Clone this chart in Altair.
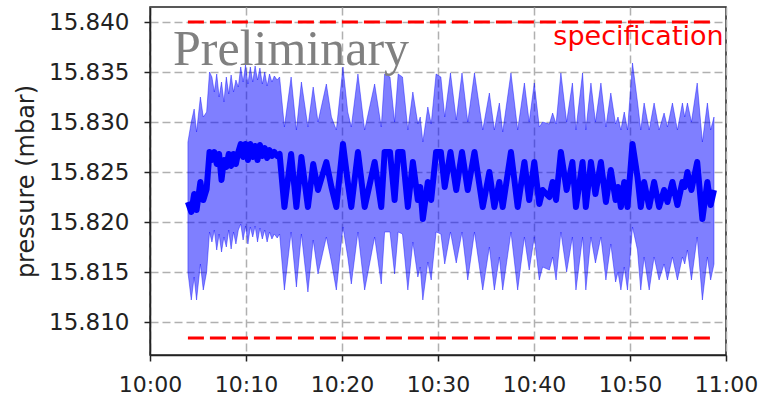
import altair as alt
import pandas as pd

# minutes after 10:00
minutes = [
    3.95, 4.3, 4.6, 4.85, 5.25, 5.55, 5.9, 6.2,
    6.45, 6.7, 6.95, 7.2, 7.45, 7.7, 7.95, 8.2, 8.45, 8.7, 8.95, 9.2, 9.45, 9.7,
    9.95, 10.2, 10.45, 10.7, 10.95, 11.2, 11.45, 11.7, 11.95, 12.2, 12.45, 12.7, 12.95, 13.25,
    13.5, 14.0, 14.7, 15.25, 15.77, 16.45, 17.0, 17.5, 18.37, 18.9, 19.41, 20.1, 20.6, 20.97,
    21.66, 22.36, 23.4, 24.09, 24.44, 25.0, 25.48, 25.85, 26.3, 26.86, 27.38, 27.9, 28.15,
    28.42, 28.94, 29.29, 29.8, 30.3, 30.7,
    31.3, 31.9, 32.5, 33.1, 33.8, 34.66, 35.35, 35.87, 36.39, 36.74, 37.6, 38.3, 39.0, 39.5,
    40.03, 40.55, 40.9, 41.6, 41.94, 42.3, 42.8, 43.4, 44.0, 44.37, 45.06, 45.4, 45.93, 46.4,
    46.97, 47.49, 48.0, 48.5, 48.75, 49.05, 49.4, 49.74, 50.26, 50.78, 51.12, 51.47, 52.0,
    52.51, 53.03, 53.55, 53.9, 54.42, 54.94, 55.46, 55.7, 55.98, 56.4, 57.0, 57.54, 58.06,
    58.4, 58.75,
]

mean_p = [
    15.8220, 15.8210, 15.8228, 15.8212, 15.8240, 15.8222, 15.8233, 15.8270,
    15.8262, 15.8270, 15.8258, 15.8268, 15.8242, 15.8262, 15.8255, 15.8268, 15.8256, 15.8268,
    15.8258, 15.8270, 15.8278, 15.8265, 15.8278, 15.8262, 15.8278, 15.8265, 15.8276, 15.8262,
    15.8277, 15.8266, 15.8274, 15.8264, 15.8272, 15.8266, 15.8270, 15.8266,
    15.8268, 15.8215, 15.8268, 15.8215, 15.8265, 15.8215, 15.8258, 15.8232, 15.8260, 15.8235,
    15.8215, 15.8278, 15.8240, 15.8215, 15.8270, 15.8215, 15.8260, 15.8215, 15.8270, 15.8270,
    15.8222, 15.8270, 15.8270, 15.8215, 15.8260, 15.8222, 15.8235, 15.8203, 15.8240, 15.8222,
    15.8270, 15.8270, 15.8235,
    15.8270, 15.8232, 15.8270, 15.8232, 15.8270, 15.8215, 15.8250, 15.8215, 15.8240, 15.8215,
    15.8270, 15.8215, 15.8260, 15.8222, 15.8260, 15.8218, 15.8232, 15.8225, 15.8240, 15.8222,
    15.8270, 15.8232, 15.8260, 15.8215, 15.8260, 15.8215, 15.8260, 15.8228, 15.8260, 15.8220,
    15.8252, 15.8222, 15.8235, 15.8215, 15.8240, 15.8215, 15.8278, 15.8245, 15.8215, 15.8240,
    15.8215, 15.8240, 15.8215, 15.8232, 15.8220, 15.8240, 15.8217, 15.8240, 15.8235, 15.8250,
    15.8232, 15.8260, 15.8203, 15.8240, 15.8217, 15.8232,
]

upper_p = [
    15.8280, 15.8300, 15.8313, 15.8290, 15.8325, 15.8305, 15.8310, 15.8350,
    15.8345, 15.8330, 15.8348, 15.8325, 15.8340, 15.8320, 15.8345, 15.8328, 15.8347, 15.8330,
    15.8342, 15.8335, 15.8355, 15.8340, 15.8357, 15.8338, 15.8355, 15.8340, 15.8356, 15.8342,
    15.8354, 15.8338, 15.8350, 15.8336, 15.8348, 15.8340, 15.8346, 15.8342,
    15.8345, 15.8295, 15.8345, 15.8292, 15.8340, 15.8295, 15.8335, 15.8300, 15.8338, 15.8305,
    15.8292, 15.8355, 15.8310, 15.8295, 15.8348, 15.8292, 15.8338, 15.8295, 15.8348, 15.8345,
    15.8300, 15.8348, 15.8345, 15.8292, 15.8330, 15.8298, 15.8305, 15.8280, 15.8315, 15.8298,
    15.8348, 15.8345, 15.8305,
    15.8349, 15.8302, 15.8349, 15.8300, 15.8349, 15.8292, 15.8329, 15.8292, 15.8319, 15.8290,
    15.8349, 15.8292, 15.8339, 15.8300, 15.8339, 15.8295, 15.8300, 15.8298, 15.8309, 15.8298,
    15.8349, 15.8300, 15.8339, 15.8292, 15.8349, 15.8292, 15.8339, 15.8300, 15.8339, 15.8295,
    15.8329, 15.8298, 15.8305, 15.8292, 15.8310, 15.8292, 15.8359, 15.8320, 15.8292, 15.8319,
    15.8292, 15.8319, 15.8292, 15.8309, 15.8295, 15.8319, 15.8292, 15.8319, 15.8305, 15.8319,
    15.8300, 15.8339, 15.8280, 15.8319, 15.8292, 15.8305,
]

lower_p = [
    15.8150, 15.8122, 15.8145, 15.8122, 15.8158, 15.8132, 15.8150, 15.8190,
    15.8180, 15.8192, 15.8172, 15.8188, 15.8170, 15.8185, 15.8175, 15.8192, 15.8173, 15.8190,
    15.8178, 15.8192, 15.8198, 15.8182, 15.8196, 15.8178, 15.8195, 15.8185, 15.8196, 15.8180,
    15.8194, 15.8183, 15.8192, 15.8180, 15.8190, 15.8183, 15.8188, 15.8184,
    15.8188, 15.8132, 15.8190, 15.8135, 15.8188, 15.8130, 15.8182, 15.8148, 15.8185, 15.8160,
    15.8132, 15.8195, 15.8165, 15.8138, 15.8190, 15.8132, 15.8185, 15.8138, 15.8190, 15.8190,
    15.8148, 15.8190, 15.8188, 15.8132, 15.8180, 15.8145, 15.8155, 15.8122, 15.8160, 15.8142,
    15.8190, 15.8188, 15.8158,
    15.8190, 15.8159, 15.8190, 15.8142, 15.8190, 15.8132, 15.8175, 15.8132, 15.8165, 15.8132,
    15.8190, 15.8132, 15.8185, 15.8152, 15.8185, 15.8142, 15.8155, 15.8152, 15.8165, 15.8142,
    15.8190, 15.8150, 15.8185, 15.8132, 15.8185, 15.8132, 15.8185, 15.8159, 15.8185, 15.8142,
    15.8178, 15.8140, 15.8150, 15.8132, 15.8155, 15.8132, 15.8195, 15.8172, 15.8132, 15.8165,
    15.8132, 15.8165, 15.8142, 15.8158, 15.8142, 15.8165, 15.8142, 15.8165, 15.8158, 15.8172,
    15.8142, 15.8185, 15.8122, 15.8165, 15.8142, 15.8158,
]

spec_values = [15.8400, 15.8084]
spec_span = [3.95, 58.8]
x_ticks = [0, 10, 20, 30, 40, 50, 60]
y_ticks = [15.810, 15.815, 15.820, 15.825, 15.830, 15.835, 15.840]
x_domain = [0, 60]
y_domain = [15.8067, 15.8415]

df = pd.DataFrame({"t": minutes, "mean": mean_p, "upper": upper_p, "lower": lower_p})
spec_df = pd.DataFrame({
    "t": [spec_span[0], spec_span[1], spec_span[0], spec_span[1]],
    "v": [spec_values[0], spec_values[0], spec_values[1], spec_values[1]],
    "g": ["high", "high", "low", "low"],
})
label_df = pd.DataFrame({"t": [59.75], "v": [15.8377], "txt": ["specification"]})
prelim_df = pd.DataFrame({"t": [2.4], "v": [15.8357], "txt": ["Preliminary"]})

xscale = alt.Scale(domain=x_domain, nice=False, zero=False)
yscale = alt.Scale(domain=y_domain, nice=False, zero=False)

grid_kw = dict(grid=True, gridDash=[8, 4], gridColor="#b0b0b0", gridWidth=1.5)
xaxis = alt.Axis(
    values=x_ticks, title=None,
    labelExpr="datum.value == 60 ? '11:00' : '10:' + (datum.value < 10 ? '0' : '') + datum.value",
    labelPadding=13, labelOverlap=False, labelFlush=False, labelBound=False,
    labelFontSize=22, **grid_kw,
)
yaxis = alt.Axis(
    values=y_ticks, format=".3f", title="pressure (mbar)", titleFontSize=24,
    titleFont="DejaVu Sans", titleFontWeight="normal", titleColor="#222",
    titlePadding=10, labelPadding=15, labelOverlap=False, labelFontSize=23, **grid_kw,
)

X = alt.X("t:Q", scale=xscale, axis=xaxis)

band = alt.Chart(df).mark_area(
    color="#0000ff", fillOpacity=0.5, stroke="#0000ff", strokeOpacity=0.5, strokeWidth=0.8
).encode(
    x=X,
    y=alt.Y("upper:Q", scale=yscale, axis=yaxis),
    y2="lower:Q",
)
line = alt.Chart(df).mark_line(color="#0000ff", strokeWidth=6, strokeJoin="round").encode(
    x=X,
    y=alt.Y("mean:Q", scale=yscale, axis=yaxis),
)
spec = alt.Chart(spec_df).mark_line(color="#ff0000", strokeWidth=3, strokeDash=[16, 6]).encode(
    x=X,
    y=alt.Y("v:Q", scale=yscale, axis=yaxis),
    detail="g:N",
)
spec_text = alt.Chart(label_df).mark_text(
    color="#ff0000", font="DejaVu Sans", fontSize=27, align="right", baseline="alphabetic"
).encode(x=X, y=alt.Y("v:Q", scale=yscale, axis=yaxis), text="txt:N")
prelim_text = alt.Chart(prelim_df).mark_text(
    color="#808080", font="Liberation Serif", fontSize=50, align="left", baseline="alphabetic"
).encode(x=X, y=alt.Y("v:Q", scale=yscale, axis=yaxis), text="txt:N")

chart = alt.layer(band, line, spec, prelim_text, spec_text).properties(
    width=576, height=348,
    autosize=alt.AutoSizeParams(type="none"),
    padding={"left": 150, "top": 7, "right": 37, "bottom": 44},
    background="white",
).configure_view(
    stroke="#222", strokeWidth=1.5,
).configure_axis(
    domainColor="#222", domainWidth=1.5, tickColor="#222", tickWidth=1.5, tickSize=6,
    labelFont="DejaVu Sans", labelColor="#222",
)

chart.save("out.html", embed_options={"renderer": "svg", "actions": False})
